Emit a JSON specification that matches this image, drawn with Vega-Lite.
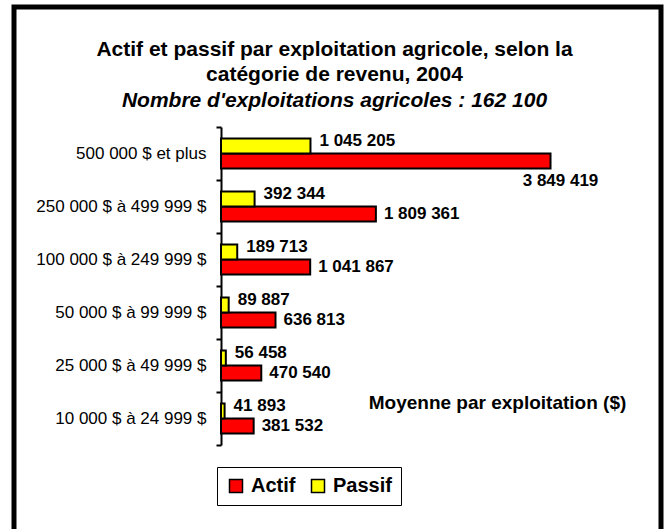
{
  "$schema": "https://vega.github.io/schema/vega-lite/v6.json",
  "autosize": {"type": "none"},
  "width": 647,
  "height": 528,
  "padding": {"left": 14, "top": 7, "right": 3, "bottom": -6},
  "background": "white",
  "config": {
    "font": "Liberation Sans",
    "view": {"stroke": "black", "strokeWidth": 5},
    "locale": {"number": {"decimal": ",", "thousands": " ", "grouping": [3], "currency": ["", " $"]}}
  },
  "title": {
    "text": ["Actif et passif par exploitation agricole, selon la", "catégorie de revenu, 2004"],
    "subtitle": "Nombre d'exploitations agricoles : 162 100",
    "anchor": "middle",
    "frame": "group",
    "offset": -113,
    "dx": -3,
    "fontSize": 21,
    "fontWeight": "bold",
    "color": "black",
    "lineHeight": 25,
    "subtitleFontSize": 21,
    "subtitleFontWeight": "bold",
    "subtitleFontStyle": "italic",
    "subtitleColor": "black",
    "subtitlePadding": 5
  },
  "data": {
    "values": [
      {"category": "500 000 $ et plus", "type": "Actif", "value": 3849419},
      {"category": "500 000 $ et plus", "type": "Passif", "value": 1045205},
      {"category": "250 000 $ à 499 999 $", "type": "Actif", "value": 1809361},
      {"category": "250 000 $ à 499 999 $", "type": "Passif", "value": 392344},
      {"category": "100 000 $ à 249 999 $", "type": "Actif", "value": 1041867},
      {"category": "100 000 $ à 249 999 $", "type": "Passif", "value": 189713},
      {"category": "50 000 $ à 99 999 $", "type": "Actif", "value": 636813},
      {"category": "50 000 $ à 99 999 $", "type": "Passif", "value": 89887},
      {"category": "25 000 $ à 49 999 $", "type": "Actif", "value": 470540},
      {"category": "25 000 $ à 49 999 $", "type": "Passif", "value": 56458},
      {"category": "10 000 $ à 24 999 $", "type": "Actif", "value": 381532},
      {"category": "10 000 $ à 24 999 $", "type": "Passif", "value": 41893}
    ]
  },
  "encoding": {
    "y": {
      "field": "category",
      "type": "nominal",
      "sort": null,
      "scale": {"range": [120, 438], "paddingInner": 0, "paddingOuter": 0},
      "axis": {
        "title": null,
        "offset": -207,
        "domainColor": "black",
        "domainWidth": 2,
        "tickColor": "black",
        "tickWidth": 2,
        "tickSize": 5,
        "tickBand": "extent",
        "labelFontSize": 17,
        "labelColor": "black",
        "labelPadding": 10,
        "labelLimit": 300
      }
    },
    "x": {
      "field": "value",
      "type": "quantitative",
      "scale": {"domain": [0, 5000000], "range": [207, 635], "nice": false},
      "axis": {
        "orient": "top",
        "domain": false,
        "ticks": false,
        "labels": false,
        "grid": false,
        "title": "Moyenne par exploitation ($)",
        "titleX": 483,
        "titleY": 401,
        "titleAlign": "center",
        "titleBaseline": "alphabetic",
        "titleFontSize": 19,
        "titleFontWeight": "bold",
        "titleColor": "black"
      }
    },
    "yOffset": {
      "field": "type",
      "type": "nominal",
      "scale": {"domain": ["Passif", "Actif"], "paddingInner": 0, "paddingOuter": 0.767}
    }
  },
  "layer": [
    {
      "mark": {"type": "bar", "stroke": "black", "strokeWidth": 2},
      "encoding": {
        "color": {
          "field": "type",
          "type": "nominal",
          "scale": {"domain": ["Actif", "Passif"], "range": ["#FF0000", "#FFFF00"]},
          "legend": {
            "orient": "none",
            "legendX": 203,
            "legendY": 460,
            "direction": "horizontal",
            "title": null,
            "strokeColor": "black",
            "padding": 9,
            "symbolType": "square",
            "symbolSize": 169,
            "symbolStrokeColor": "black",
            "symbolStrokeWidth": 1.5,
            "symbolOpacity": 1,
            "labelFontSize": 20,
            "labelFontWeight": "bold",
            "labelColor": "black",
            "labelOffset": 5,
            "columnPadding": 12
          }
        }
      }
    },
    {
      "transform": [{"filter": "datum.type === 'Passif'"}],
      "mark": {"type": "text", "align": "left", "baseline": "middle", "dx": 9, "dy": -5, "fontSize": 17, "fontWeight": "bold", "color": "black"},
      "encoding": {"text": {"field": "value", "type": "quantitative", "format": ",d"}}
    },
    {
      "transform": [{"filter": "datum.type === 'Actif' && datum.value < 3000000"}],
      "mark": {"type": "text", "align": "left", "baseline": "middle", "dx": 8, "dy": 0, "fontSize": 17, "fontWeight": "bold", "color": "black"},
      "encoding": {"text": {"field": "value", "type": "quantitative", "format": ",d"}}
    },
    {
      "transform": [{"filter": "datum.type === 'Actif' && datum.value >= 3000000"}],
      "mark": {"type": "text", "align": "center", "baseline": "middle", "dx": 10, "dy": 20, "fontSize": 17, "fontWeight": "bold", "color": "black"},
      "encoding": {"text": {"field": "value", "type": "quantitative", "format": ",d"}}
    }
  ]
}
